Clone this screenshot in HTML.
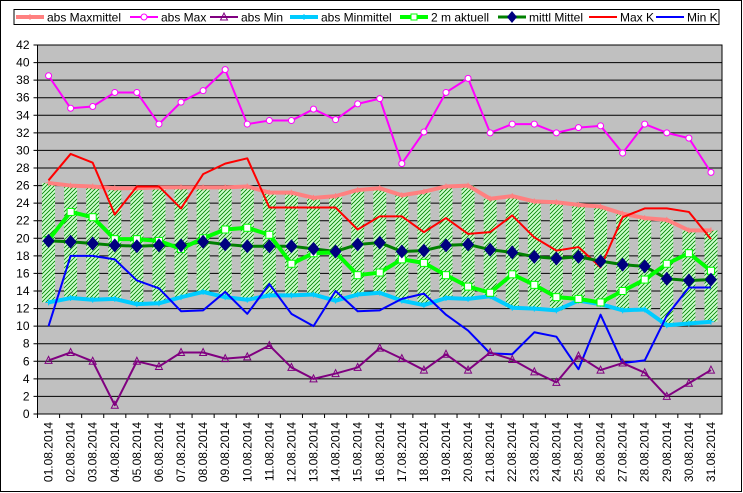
<!DOCTYPE html>
<html><head><meta charset="utf-8"><style>
html,body{margin:0;padding:0;background:#fff;}
svg{display:block;font-family:"Liberation Sans",Arial,sans-serif;}
</style></head><body>
<svg id="chart" width="743" height="493" viewBox="0 0 743 493" xmlns="http://www.w3.org/2000/svg">
<defs>
<pattern id="hatch" patternUnits="userSpaceOnUse" width="4" height="4">
<rect width="4" height="4" fill="#ccffcc"/>
<path d="M-1,1 l2,-2 M0,4 l4,-4 M3,5 l2,-2" stroke="#008000" stroke-width="0.8"/>
</pattern>
</defs>
<rect x="0.5" y="0.5" width="741" height="491" fill="#fff" stroke="#000"/>
<g id="legend"></g>
<g id="plot"></g>
</svg>
<script>
const categories=["01.08.2014","02.08.2014","03.08.2014","04.08.2014","05.08.2014","06.08.2014","07.08.2014","08.08.2014","09.08.2014","10.08.2014","11.08.2014","12.08.2014","13.08.2014","14.08.2014","15.08.2014","16.08.2014","17.08.2014","18.08.2014","19.08.2014","20.08.2014","21.08.2014","22.08.2014","23.08.2014","24.08.2014","25.08.2014","26.08.2014","27.08.2014","28.08.2014","29.08.2014","30.08.2014","31.08.2014"];
const absMaxmittel=[26.3,26.0,25.9,25.7,25.7,25.8,25.8,25.8,25.8,25.9,25.2,25.2,24.6,24.8,25.5,25.7,24.9,25.3,25.9,26.0,24.5,24.8,24.2,24.1,23.8,23.6,22.8,22.3,22.1,20.9,20.9];
const absMax=[38.5,34.8,35.0,36.6,36.6,33.0,35.5,36.8,39.2,33.0,33.4,33.4,34.7,33.5,35.3,35.9,28.5,32.1,36.6,38.2,32.0,33.0,33.0,32.0,32.6,32.8,29.7,33.0,32.0,31.4,27.5];
const absMin=[6.1,7.0,6.0,1.0,6.0,5.4,7.0,7.0,6.3,6.5,7.8,5.3,4.0,4.6,5.3,7.5,6.3,5.0,6.8,5.0,7.0,6.2,4.8,3.6,6.6,5.0,5.8,4.7,2.0,3.5,5.0];
const absMinmittel=[12.7,13.2,13.0,13.1,12.5,12.6,13.3,13.9,13.3,13.0,13.5,13.5,13.6,12.9,13.6,13.8,12.9,12.4,13.2,13.1,13.4,12.1,12.0,11.8,12.9,12.5,11.8,11.9,10.1,10.3,10.5];
const aktuell2m=[19.8,23.0,22.4,19.9,19.9,19.7,18.8,20.0,21.0,21.2,20.4,17.1,18.3,18.4,15.8,16.1,17.6,17.2,15.8,14.5,13.8,15.9,14.7,13.3,13.1,12.7,14.0,15.3,17.1,18.3,16.3];
const mittlMittel=[19.7,19.6,19.4,19.2,19.1,19.2,19.2,19.6,19.3,19.1,19.1,19.1,18.8,18.5,19.3,19.5,18.5,18.6,19.2,19.3,18.7,18.4,17.9,17.7,17.9,17.4,17.0,16.8,15.4,15.2,15.3];
const maxK=[26.6,29.6,28.6,22.7,25.9,25.9,23.4,27.3,28.5,29.1,23.5,23.5,23.5,23.5,21.0,22.5,22.5,20.7,22.3,20.5,20.7,22.6,20.1,18.6,19.0,16.7,22.4,23.4,23.4,23.0,19.9];
const minK=[10.0,18.0,18.0,17.6,15.2,14.3,11.7,11.8,13.9,11.4,14.8,11.4,10.0,14.0,11.7,11.8,13.1,13.7,11.3,9.5,6.9,6.8,9.3,8.8,5.1,11.3,5.8,6.1,11.2,14.4,14.4];
const yTicks=[0,2,4,6,8,10,12,14,16,18,20,22,24,26,28,30,32,34,36,38,40,42];

const NS="http://www.w3.org/2000/svg";
const L=37.5,R=722,T=45,B=414,YMAX=42;
const bw=(R-L)/categories.length;
const x=i=>L+bw*(i+0.5);
const y=v=>B-(B-T)*v/YMAX;
const plot=document.getElementById('plot');
function mk(tag,attrs,parent){const e=document.createElementNS(NS,tag);for(const k in attrs)e.setAttribute(k,attrs[k]);(parent||plot).appendChild(e);return e;}

const bg=mk('rect',{x:L,y:T,width:R-L,height:B-T,fill:'#c0c0c0'});


yTicks.forEach(t=>{
  const g=mk('line',{x1:L-4,x2:R,y1:y(t),y2:y(t),stroke:'#000','stroke-width':1});
  
  
  const tx=mk('text',{x:L-8,y:y(t)+4,'text-anchor':'end','font-size':12,fill:'#000'});
  tx.textContent=t;
  
  
});
categories.forEach((c,i)=>{
  const r=mk('rect',{x:x(i)-6.5,y:y(absMaxmittel[i]),width:13,height:y(absMinmittel[i])-y(absMaxmittel[i]),fill:'url(#hatch)'});
  
  
});
function line(data,color,w,name){
  const p=mk('polyline',{points:data.map((v,i)=>x(i)+','+y(v)).join(' '),fill:'none',stroke:color,'stroke-width':w,'stroke-linejoin':'round'});
  
  
  return p;
}
function plus(data,color,name){data.forEach((v,i)=>{const p=mk('path',{d:`M${x(i)-3},${y(v)}h6M${x(i)},${y(v)-3}v6`,stroke:color,'stroke-width':1});});}
line(absMaxmittel,'#ff8080',4,'abs-maxmittel-line');plus(absMaxmittel,'#ff8080','abs-maxmittel-marker');
line(absMinmittel,'#00ccff',4,'abs-minmittel-line');plus(absMinmittel,'#00ccff','abs-minmittel-marker');
line(maxK,'#ff0000',2,'max-k-line');
line(minK,'#0000ff',2,'min-k-line');
line(absMax,'#ff00ff',2,'abs-max-line');
absMax.forEach((v,i)=>{const c=mk('circle',{cx:x(i),cy:y(v),r:3,fill:'#fff',stroke:'#ff00ff','stroke-width':1});});
line(absMin,'#800080',2,'abs-min-line');
absMin.forEach((v,i)=>{const p=mk('path',{d:`M${x(i)},${y(v)-4}L${x(i)+3.5},${y(v)+3}H${x(i)-3.5}Z`,fill:'none',stroke:'#800080','stroke-width':1});});
line(mittlMittel,'#008000',3,'mittl-mittel-line');
line(aktuell2m,'#00ff00',4,'aktuell-2m-line');
aktuell2m.forEach((v,i)=>{const r=mk('rect',{x:x(i)-3.5,y:y(v)-3.5,width:7,height:7,fill:'#fff',stroke:'#00ff00','stroke-width':1});});
mittlMittel.forEach((v,i)=>{const p=mk('path',{d:`M${x(i)},${y(v)-7}L${x(i)+6},${y(v)}L${x(i)},${y(v)+7}L${x(i)-6},${y(v)}Z`,fill:'#000080'});});
const ax=mk('path',{d:`M${L},${T}V${B}H${R}V${T}H${L}`,fill:'none',stroke:'#000','stroke-width':1});


categories.forEach((c,i)=>{
  const tk=mk('line',{x1:L+bw*i,x2:L+bw*i,y1:B,y2:B+4,stroke:'#000'});
  
  
  const t=mk('text',{x:0,y:0,'font-size':12,'text-anchor':'end',transform:`translate(${x(i)+4},${B+8}) rotate(-90)`});
  t.textContent=c;
  
  
});
const lg=document.getElementById('legend');
mk('rect',{x:14,y:9.5,width:705,height:15,fill:'#fff',stroke:'#000'},lg);
const items=[["abs Maxmittel",'#ff8080',4,'plus',16],["abs Max",'#ff00ff',2,'circle',130],["abs Min",'#800080',2,'tri',210],["abs Minmittel",'#00ccff',4,'plus',290],["2 m aktuell",'#00ff00',4,'sq',400],["mittl Mittel",'#008000',3,'dia',498],["Max K",'#ff0000',2,'',589],["Min K",'#0000ff',2,'',656]];
items.forEach(it=>{
  const g=mk('g',{},lg);
  
  
  const x0=it[4],yy=17,xm=x0+14;
  mk('line',{x1:x0,x2:x0+28,y1:yy,y2:yy,stroke:it[1],'stroke-width':it[2]},g);
  if(it[3]==='circle')mk('circle',{cx:xm,cy:yy,r:3,fill:'#fff',stroke:it[1]},g);
  if(it[3]==='tri')mk('path',{d:`M${xm},${yy-4}L${xm+3.5},${yy+3}H${xm-3.5}Z`,fill:'none',stroke:it[1]},g);
  if(it[3]==='sq')mk('rect',{x:xm-3,y:yy-3,width:6,height:6,fill:'#fff',stroke:it[1]},g);
  if(it[3]==='dia')mk('path',{d:`M${xm},${yy-6}L${xm+5},${yy}L${xm},${yy+6}L${xm-5},${yy}Z`,fill:'#000080'},g);
  if(it[3]==='plus')mk('path',{d:`M${xm-3},${yy}h6M${xm},${yy-3}v6`,stroke:it[1]},g);
  const t=mk('text',{x:x0+31,y:yy+4.5,'font-size':12},g);
  t.textContent=it[0];
});
</script>
</body></html>
